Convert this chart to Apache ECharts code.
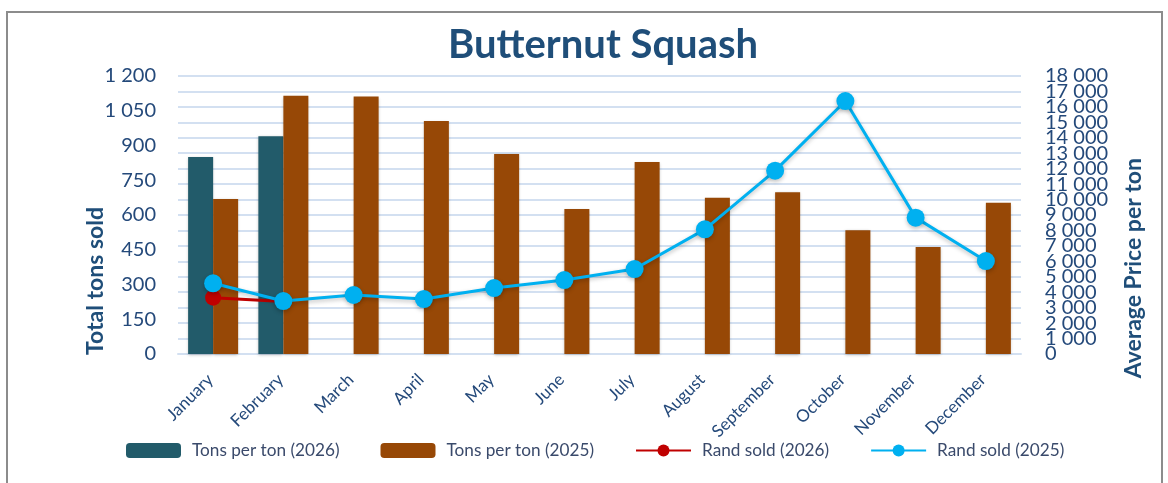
<!DOCTYPE html>
<html>
<head>
<meta charset="utf-8">
<script src="https://cdn.jsdelivr.net/npm/echarts@6/dist/echarts.min.js"></script>
<style>
  html, body { margin: 0; padding: 0; background: #fff; }
  #wrap { position: relative; width: 1168px; height: 483px; overflow: hidden; }
  #chart { width: 1168px; height: 483px; }
  .frame { position: absolute; left: 6px; top: 11px; width: 1153px; height: 490px; border: 2px solid #8c8c8c; pointer-events: none; }
</style>
</head>
<body>
<div id="wrap">
  <div id="chart"></div>
  <div class="frame"></div>
</div>
<script>
// months on the x axis
const months = ['January', 'February', 'March', 'April', 'May', 'June', 'July', 'August', 'September', 'October', 'November', 'December']
// tons sold (left axis)
const tons2026 = [850, 940, null, null, null, null, null, null, null, null, null, null]
const tons2025 = [669, 1115, 1111, 1006, 863, 626, 829, 675, 698, 534, 462, 653]
// average price per ton (right axis)
const rand2026 = [3650, 3400, null, null, null, null, null, null, null, null, null, null]
const rand2025 = [4580, 3430, 3820, 3560, 4270, 4790, 5500, 8070, 11870, 16380, 8830, 6020]

const textBlue = '#24497a'
const font = 'Lato'

function spaced(v) {
  return String(v).replace(/\B(?=(\d{3})+(?!\d))/g, ' ')
}

// the right axis labels overlap, so they are split over two stacked axes
// (even and odd thousands) to stop echarts from hiding any of them
function rightAxis(odd, grid) {
  return {
    type: 'value',
    position: 'right',
    min: 0,
    max: 18000,
    interval: 1000,
    splitLine: { show: grid, lineStyle: { color: '#d3e0f1', width: 2 } },
    axisLine: { show: false },
    axisTick: { show: false },
    axisLabel: {
      fontSize: 20,
      color: textBlue,
      margin: 24,
      fontFamily: font,
      showMinLabel: true,
      showMaxLabel: true,
      formatter: v => ((v / 1000) % 2 === 1) === odd ? spaced(v) : ''
    }
  }
}

const chart = echarts.init(document.getElementById('chart'))
chart.setOption({
  animation: false,
  textStyle: { fontFamily: font },
  title: {
    text: 'Butternut Squash',
    left: 443,
    top: 20,
    textStyle: { fontSize: 40, fontWeight: 'bold', color: '#1f4e79', fontFamily: font }
  },
  grid: { left: 178, right: 147, top: 76, bottom: 129 },
  legend: {
    bottom: 19,
    left: 121,
    itemWidth: 55,
    itemHeight: 15,
    itemGap: 41,
    textStyle: { fontSize: 17.2, color: '#3a4a6b', fontFamily: font, padding: [0, 0, 0, 6] },
    data: ['Tons per ton (2026)', 'Tons per ton (2025)', 'Rand sold (2026)', 'Rand sold (2025)']
  },
  xAxis: {
    type: 'category',
    data: months,
    axisLine: { show: true, lineStyle: { color: '#d3e0f1', width: 2 } },
    axisTick: { show: false },
    axisLabel: {
      rotate: 45,
      interval: 0,
      margin: 20,
      padding: [0, 4, 0, 0],
      fontSize: 17,
      color: textBlue,
      fontFamily: font
    }
  },
  yAxis: [
    {
      type: 'value',
      min: 0,
      max: 1200,
      interval: 150,
      splitLine: { show: false },
      axisLine: { show: false },
      axisTick: { show: false },
      axisLabel: { fontSize: 20, color: textBlue, margin: 22, fontFamily: font, formatter: spaced }
    },
    rightAxis(false, true),
    rightAxis(true, false)
  ],
  graphic: [
    {
      type: 'text',
      left: 84,
      top: 207,
      rotation: Math.PI / 2,
      style: { text: 'Total tons sold', fontSize: 23, fontWeight: 'bold', fill: '#1f4e79', fontFamily: font }
    },
    {
      type: 'text',
      left: 1122,
      top: 158,
      rotation: Math.PI / 2,
      style: { text: 'Average Price per ton', fontSize: 23, fontWeight: 'bold', fill: '#1f4e79', fontFamily: font }
    }
  ],
  series: [
    {
      name: 'Tons per ton (2026)',
      type: 'bar',
      data: tons2026,
      barWidth: 25,
      barGap: '0%',
      itemStyle: { color: '#225b6a', shadowColor: 'rgba(0,0,0,0.25)', shadowBlur: 3, shadowOffsetY: 1 }
    },
    {
      name: 'Tons per ton (2025)',
      type: 'bar',
      data: tons2025,
      barWidth: 25,
      barGap: '0%',
      itemStyle: { color: '#974806', shadowColor: 'rgba(0,0,0,0.25)', shadowBlur: 3, shadowOffsetY: 1 }
    },
    {
      name: 'Rand sold (2026)',
      type: 'line',
      yAxisIndex: 1,
      data: rand2026,
      symbol: 'circle',
      symbolSize: 16,
      lineStyle: { color: '#c00000', width: 3 },
      itemStyle: { color: '#c00000' }
    },
    {
      name: 'Rand sold (2025)',
      type: 'line',
      yAxisIndex: 1,
      data: rand2025,
      symbol: 'circle',
      symbolSize: 18,
      lineStyle: { color: '#00b0f0', width: 3, shadowColor: 'rgba(0,0,0,0.25)', shadowBlur: 4, shadowOffsetY: 2 },
      itemStyle: { color: '#00b0f0', shadowColor: 'rgba(0,0,0,0.25)', shadowBlur: 4, shadowOffsetY: 2 }
    }
  ]
})
</script>
</body>
</html>
